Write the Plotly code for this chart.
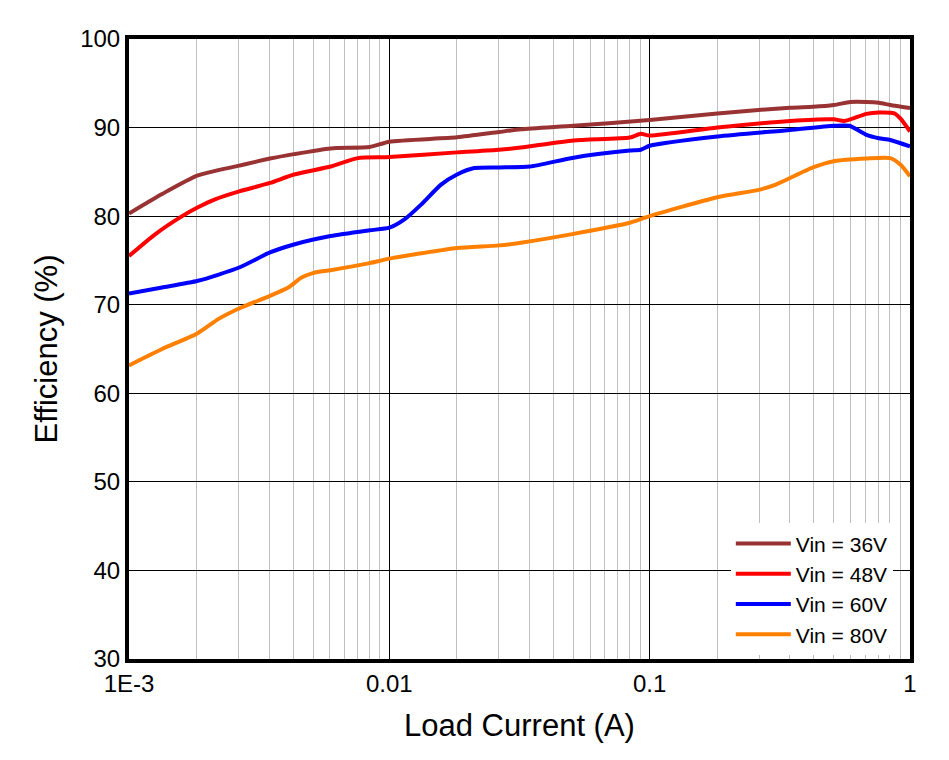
import plotly.graph_objects as go

# ---- data ----
x36 = [0.001, 0.00134, 0.00184, 0.00265, 0.00348, 0.0043, 0.00595, 0.0084, 0.01, 0.0182,
       0.0264, 0.032, 0.051, 0.1, 0.182, 0.346, 0.424, 0.51, 0.59, 0.68, 0.76, 0.84, 1.0]
y36 = [80.3, 82.5, 84.6, 85.7, 86.5, 87.0, 87.65, 87.8, 88.4, 88.9,
       89.5, 89.8, 90.2, 90.85, 91.6, 92.25, 92.35, 92.55, 92.9, 92.9, 92.8, 92.55, 92.2]

x48 = [0.001, 0.00126, 0.0016, 0.00184, 0.00214, 0.00265, 0.00348, 0.0043, 0.00595, 0.00757,
       0.01, 0.0182, 0.0264, 0.032, 0.051, 0.0839, 0.0924, 0.1, 0.182, 0.346,
       0.51, 0.56, 0.68, 0.76, 0.87, 0.92, 1.0]
y48 = [75.5, 77.95, 80.0, 81.0, 81.9, 82.8, 83.75, 84.7, 85.6, 86.55,
       86.67, 87.2, 87.5, 87.75, 88.55, 88.87, 89.3, 89.1, 90.0, 90.75,
       90.93, 90.75, 91.55, 91.7, 91.6, 91.0, 89.55]

x60 = [0.001, 0.00134, 0.00184, 0.00265, 0.00348, 0.0043, 0.00595, 0.0084, 0.01, 0.01143,
       0.01324, 0.0158, 0.0182, 0.0212, 0.0264, 0.0347, 0.051, 0.0839, 0.0924, 0.1,
       0.182, 0.346, 0.51, 0.585, 0.68, 0.76, 0.84, 1.0]
y60 = [71.27, 71.94, 72.7, 74.2, 75.9, 76.8, 77.75, 78.4, 78.7, 79.63,
       81.3, 83.56, 84.7, 85.43, 85.5, 85.6, 86.6, 87.4, 87.5, 87.95,
       89.0, 89.73, 90.2, 90.2, 89.18, 88.8, 88.6, 87.87]

x80 = [0.001, 0.00134, 0.00183, 0.00221, 0.00267, 0.00348, 0.00409, 0.0046, 0.00512, 0.00595,
       0.0084, 0.01, 0.01324, 0.0182, 0.0264, 0.032, 0.051, 0.0839, 0.1, 0.182,
       0.265, 0.305, 0.424, 0.51, 0.68, 0.84, 0.92, 1.0]
y80 = [63.15, 65.0, 66.76, 68.4, 69.63, 71.0, 71.94, 73.06, 73.6, 73.9,
       74.7, 75.2, 75.8, 76.4, 76.7, 77.0, 78.0, 79.25, 80.0, 82.13,
       83.0, 83.56, 85.5, 86.2, 86.5, 86.55, 85.8, 84.5]

series_names = ["Vin = 36V", "Vin = 48V", "Vin = 60V", "Vin = 80V"]
x_tickvals = [0.001, 0.01, 0.1, 1]
x_ticktext = ["1E-3", "0.01", "0.1", "1"]
y_tickvals = [30, 40, 50, 60, 70, 80, 90, 100]

# ---- styles ----
colors = ["#993333", "#ff0000", "#0000ff", "#ff8000"]
FONT = "Liberation Sans, Arial, sans-serif"

# minor grid positions (chart uses 11 equal linear steps per decade)
minor_vals = []
for d in [0.001, 0.01, 0.1]:
    for k in range(1, 11):
        minor_vals.append(d * (1 + k * 9 / 11))

fig = go.Figure()
for xs, ys, name, c in zip([x36, x48, x60, x80], [y36, y48, y60, y80], series_names, colors):
    fig.add_trace(go.Scatter(x=xs, y=ys, name=name, mode="lines",
                             line=dict(color=c, width=4, shape="spline", smoothing=0.6)))

fig.update_layout(
    width=949, height=760,
    margin=dict(l=121, r=47, t=31, b=109),
    paper_bgcolor="white", plot_bgcolor="white",
    font=dict(family=FONT, color="black"),
    showlegend=True,
    legend=dict(x=0.978, y=0.006, xanchor="right", yanchor="bottom",
                bgcolor="white", borderwidth=0, font=dict(size=21, family=FONT),
                itemwidth=55, tracegroupgap=0),
)
fig.update_xaxes(
    type="log", range=[-3, 0],
    tickvals=x_tickvals, ticktext=x_ticktext,
    tickfont=dict(size=24), ticks="",
    showgrid=True, gridcolor="black", gridwidth=1,
    minor=dict(tickvals=minor_vals, showgrid=True, gridcolor="#c0c0c0", gridwidth=1, ticks=""),
    showline=True, linecolor="black", linewidth=4, mirror=True,
    title=dict(text="Load Current (A)", font=dict(size=31), standoff=20),
    zeroline=False,
)
fig.update_yaxes(
    range=[30, 100], tickvals=y_tickvals,
    tickfont=dict(size=24), ticks="",
    showgrid=True, gridcolor="black", gridwidth=1,
    showline=True, linecolor="black", linewidth=4, mirror=True,
    title=dict(text="Efficiency (%)", font=dict(size=31), standoff=14),
    zeroline=False,
)

fig.write_html("out.html")
